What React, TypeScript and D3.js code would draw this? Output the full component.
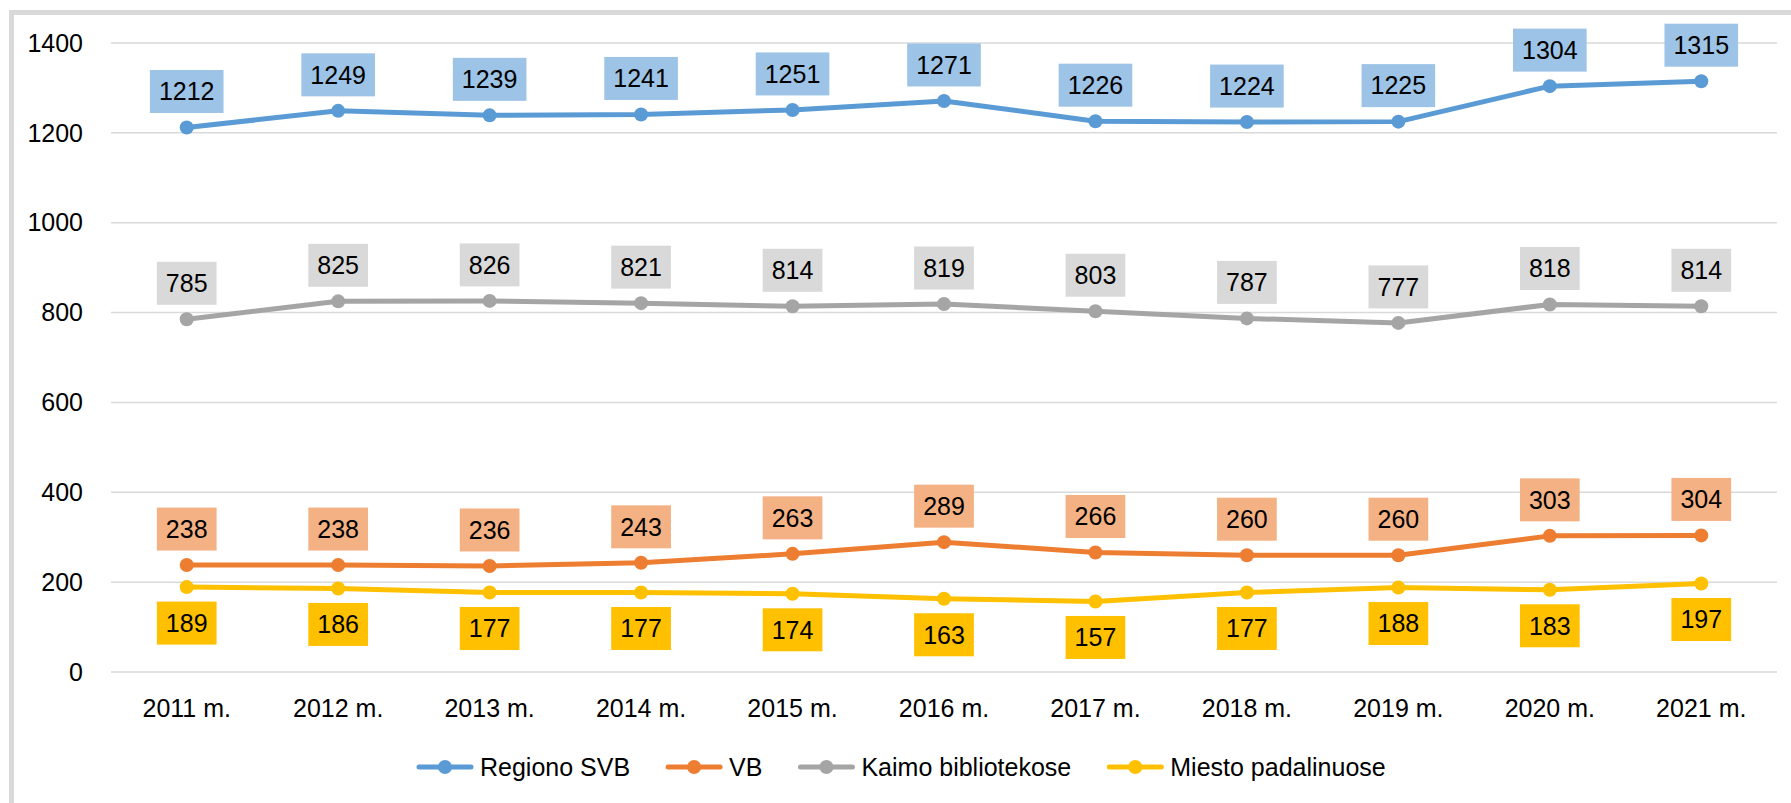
import React from "react";
import * as d3 from "d3";

const years = ["2011 m.", "2012 m.", "2013 m.", "2014 m.", "2015 m.", "2016 m.", "2017 m.", "2018 m.", "2019 m.", "2020 m.", "2021 m."];
const regionoSVB = [1212, 1249, 1239, 1241, 1251, 1271, 1226, 1224, 1225, 1304, 1315];
const vb = [238, 238, 236, 243, 263, 289, 266, 260, 260, 303, 304];
const kaimo = [785, 825, 826, 821, 814, 819, 803, 787, 777, 818, 814];
const miesto = [189, 186, 177, 177, 174, 163, 157, 177, 188, 183, 197];
const yTicks = [0, 200, 400, 600, 800, 1000, 1200, 1400];

const seriesNames = ["Regiono SVB", "VB", "Kaimo bibliotekose", "Miesto padalinuose"];

const W = 1791;
const H = 803;
const FONT = "'Liberation Sans', Arial, sans-serif";
const FS = 25;

const series = [
  { name: seriesNames[0], values: regionoSVB, color: "#5B9BD5", box: "#9DC3E6", above: true },
  { name: seriesNames[1], values: vb, color: "#ED7D31", box: "#F4B183", above: true },
  { name: seriesNames[2], values: kaimo, color: "#A5A5A5", box: "#D9D9D9", above: true },
  { name: seriesNames[3], values: miesto, color: "#FFC000", box: "#FFC000", above: false },
];

function measure(text: string): number {
  if (typeof document === "undefined") return text.length * 12;
  const c = document.createElement("canvas");
  const ctx = c.getContext("2d");
  if (!ctx) return text.length * 12;
  ctx.font = `${FS}px ${FONT}`;
  return ctx.measureText(text).width;
}

export default function App() {
  const x = d3.scaleBand<string>().domain(years).range([111, 1777]);
  const y = d3.scaleLinear().domain([0, 1400]).range([672, 43]);
  const cx = (d: string) => (x(d) as number) + x.bandwidth() / 2;

  const line = d3
    .line<number>()
    .x((_, i) => cx(years[i]))
    .y((v) => y(v));

  // legend layout
  const lineLen = 52;
  const gapText = 9;
  const gapItem = 38;
  let lx = 419;
  const legendItems = series.map((s) => {
    const tw = measure(s.name);
    const item = { ...s, x0: lx, tx: lx + lineLen + gapText };
    lx = lx + lineLen + gapText + tw + gapItem;
    return item;
  });
  const legendY = 767;

  return (
    <svg
      width={W}
      height={H}
      style={{ position: "absolute", left: 0, top: 0, background: "#fff" }}
      fontFamily={FONT}
    >
      <rect x={0} y={0} width={W} height={H} fill="#fff" />
      {/* outer chart border */}
      <line x1={11.5} x2={11.5} y1={10} y2={H} stroke="#D9D9D9" strokeWidth={5} />
      <line x1={9} x2={W} y1={12.5} y2={12.5} stroke="#D9D9D9" strokeWidth={5} />

      {/* gridlines */}
      {yTicks.map((t) => (
        <line key={t} x1={111} x2={1777} y1={y(t)} y2={y(t)} stroke="#D9D9D9" strokeWidth={1.5} />
      ))}
      {/* y labels */}
      {yTicks.map((t) => (
        <text key={t} x={83} y={y(t)} dy="0.35em" textAnchor="end" fontSize={FS} fill="#000">
          {t}
        </text>
      ))}
      {/* x labels */}
      {years.map((yr) => (
        <text key={yr} x={cx(yr)} y={708} dy="0.35em" textAnchor="middle" fontSize={FS} fill="#000">
          {yr}
        </text>
      ))}

      {/* lines */}
      {series.map((s) => (
        <g key={s.name}>
          <path d={line(s.values) || ""} fill="none" stroke={s.color} strokeWidth={5} strokeLinejoin="round" />
          {s.values.map((v, i) => (
            <circle key={i} cx={cx(years[i])} cy={y(v)} r={7} fill={s.color} />
          ))}
        </g>
      ))}

      {/* data labels */}
      {series.map((s) => (
        <g key={s.name + "lbl"}>
          {s.values.map((v, i) => {
            const txt = String(v);
            const tw = measure(txt);
            const bw = tw + 18;
            const bh = 43;
            const px = cx(years[i]);
            const py = y(v);
            const by = s.above ? py - 14.5 - bh : py + 14.5;
            return (
              <g key={i}>
                <rect x={px - bw / 2} y={by} width={bw} height={bh} fill={s.box} />
                <text x={px} y={by + bh / 2} dy="0.35em" textAnchor="middle" fontSize={FS} fill="#000">
                  {txt}
                </text>
              </g>
            );
          })}
        </g>
      ))}

      {/* legend */}
      {legendItems.map((it) => (
        <g key={it.name + "leg"}>
          <line x1={it.x0} x2={it.x0 + lineLen} y1={legendY} y2={legendY} stroke={it.color} strokeWidth={5} strokeLinecap="round" />
          <circle cx={it.x0 + lineLen / 2} cy={legendY} r={7} fill={it.color} />
          <text x={it.tx} y={legendY} dy="0.35em" fontSize={FS} fill="#000">
            {it.name}
          </text>
        </g>
      ))}
    </svg>
  );
}
